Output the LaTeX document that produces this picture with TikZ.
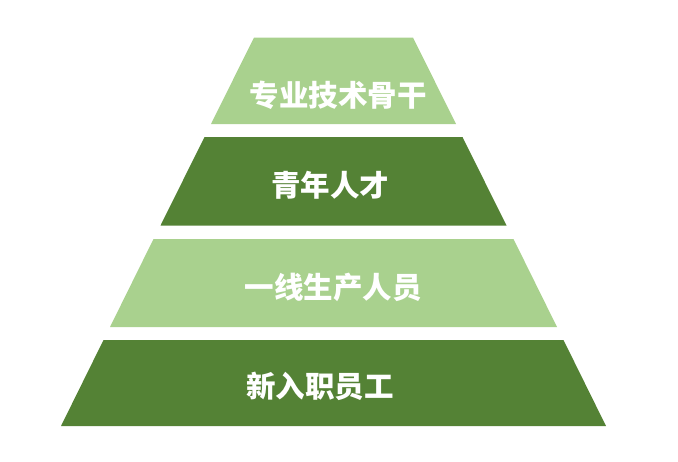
\documentclass[tikz,border=0pt]{standalone}
\usepackage{fontspec}
\usepackage{tikz}
\newfontfamily\cjk{Noto Sans CJK SC}
\definecolor{lightgreen}{HTML}{A9D18E}
\definecolor{darkgreen}{HTML}{548235}

\begin{document}
\begin{tikzpicture}[x=1pt,y=-1pt,
  label/.style={text=white,font=\cjk\bfseries\fontsize{29.5}{29.5}\selectfont,inner sep=0pt}]

\useasboundingbox (0,0) rectangle (678,461);

\fill[lightgreen]  (254,37.5)  --  (413,37.5)  --  (456,124)  --  (211,124)  --  cycle;
\node[label] (gugan) at (338,95) {专业技术骨干};

\fill[darkgreen]  (204.5,137)  --  (462.5,137)  --  (506.5,225.5)  --  (160.5,225.5)  --  cycle;
\node[label] (qingnian) at (330,185) {青年人才};

\fill[lightgreen]  (153.5,239)  --  (513.5,239)  --  (557,327)  --  (110,327)  --  cycle;
\node[label] (yixian) at (333,287) {一线生产人员};

\fill[darkgreen]  (103.5,340)  --  (563.5,340)  --  (606,426)  --  (61,426)  --  cycle;
\node[label] (xinru) at (320,386) {新入职员工};

\end{tikzpicture}
\end{document}
